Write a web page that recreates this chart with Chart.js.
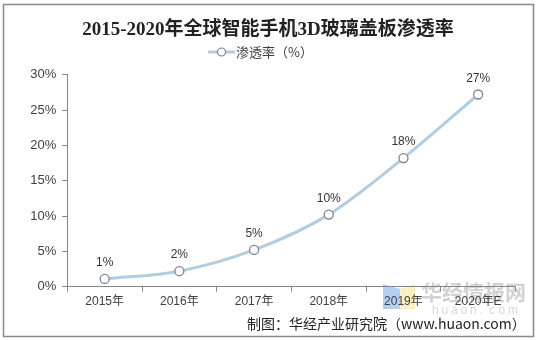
<!DOCTYPE html>
<html>
<head>
<meta charset="utf-8">
<script src="https://cdn.jsdelivr.net/npm/chart.js@4/dist/chart.umd.min.js"></script>
<style>
html,body{margin:0;padding:0;background:#fff;}
#wrap{width:538px;height:340px;position:relative;}
</style>
</head>
<body>
<div id="wrap"><canvas id="c" width="538" height="340"></canvas></div>
<script>
const titleText = '2015-2020年全球智能手机3D玻璃盖板渗透率';
const seriesName = '渗透率（%）';
const sourceText = '制图：华经产业研究院（www.huaon.com）';
const categories = ['2015年','2016年','2017年','2018年','2019年','2020年E'];
const penetration = [1.1, 2.2, 5.2, 10.2, 18.2, 27.2];
const yTicks = [0, 5, 10, 15, 20, 25, 30];

const lineColor = '#b3cde0';
const pointBorder = '#7b8199';
const textColor = '#404040';

const decor = {
  id: 'decor',
  beforeDraw(chart) {
    const ctx = chart.ctx;
    ctx.save();
    ctx.fillStyle = '#fff';
    ctx.fillRect(0, 0, chart.width, chart.height);
    // watermark blocks
    ctx.fillStyle = 'rgba(120,165,235,0.55)';
    ctx.beginPath();
    ctx.moveTo(383, 284); ctx.lineTo(400, 289); ctx.lineTo(400, 309); ctx.lineTo(383, 309); ctx.closePath();
    ctx.fill();
    ctx.fillStyle = 'rgba(250,230,150,0.6)';
    ctx.beginPath();
    ctx.moveTo(400, 289); ctx.lineTo(415, 284); ctx.lineTo(415, 309); ctx.lineTo(400, 309); ctx.closePath();
    ctx.fill();
    ctx.fillStyle = '#d2d2d2';
    ctx.font = 'bold 21px "Noto Sans CJK SC"';
    ctx.textAlign = 'left';
    ctx.textBaseline = 'middle';
    ctx.fillText('华经情报网', 421, 292);
    ctx.font = '12px "Liberation Sans"';
    ctx.fillStyle = '#d8d8d8';
    const wm = 'huaon.com';
    for (let i = 0; i < wm.length; i++) ctx.fillText(wm[i], 432 + i * 9.5, 311);
    ctx.restore();
  },
  afterDraw(chart) {
    const ctx = chart.ctx;
    ctx.save();
    // frame
    ctx.strokeStyle = '#8a8a8a';
    ctx.lineWidth = 1.5;
    ctx.strokeRect(3.5, 4.5, 530, 332);
    // title
    ctx.fillStyle = '#222';
    ctx.font = 'bold 19px "Liberation Serif", "Noto Sans CJK SC"';
    ctx.textAlign = 'center';
    ctx.textBaseline = 'middle';
    ctx.fillText(titleText, 268, 30);
    // legend
    const ly = 52;
    ctx.strokeStyle = lineColor;
    ctx.lineWidth = 3;
    ctx.beginPath(); ctx.moveTo(208, ly); ctx.lineTo(235, ly); ctx.stroke();
    ctx.fillStyle = '#fff';
    ctx.strokeStyle = pointBorder;
    ctx.lineWidth = 1.2;
    ctx.beginPath(); ctx.arc(221.5, ly, 4, 0, Math.PI * 2); ctx.fill(); ctx.stroke();
    ctx.fillStyle = textColor;
    ctx.font = '13px "Noto Sans CJK SC"';
    ctx.textAlign = 'left';
    ctx.fillText(chart.data.datasets[0].label, 236, ly);
    // data labels
    const meta = chart.getDatasetMeta(0);
    ctx.font = '12px "Liberation Sans"';
    ctx.textAlign = 'center';
    ctx.fillStyle = '#333';
    meta.data.forEach((pt, i) => {
      const v = chart.data.datasets[0].data[i];
      ctx.fillText(Math.round(v) + '%', pt.x, pt.y - 16);
    });
    // source
    ctx.fillStyle = '#222';
    ctx.font = '14px "Noto Sans CJK SC"';
    ctx.textAlign = 'left';
    ctx.fillText(sourceText, 247, 324);
    ctx.restore();
  }
};

new Chart(document.getElementById('c'), {
  type: 'line',
  data: {
    labels: categories,
    datasets: [{
      label: seriesName,
      data: penetration,
      borderColor: lineColor,
      borderWidth: 3,
      cubicInterpolationMode: 'monotone',
      pointRadius: 4.5,
      pointBackgroundColor: '#fff',
      pointBorderColor: pointBorder,
      pointBorderWidth: 1.3,
      fill: false
    }]
  },
  options: {
    responsive: false,
    animation: false,
    devicePixelRatio: 1,
    layout: { padding: { left: 0, right: 22.5, top: 74.7, bottom: 23.3 } },
    plugins: { legend: { display: false }, title: { display: false }, tooltip: { enabled: false } },
    scales: {
      x: {
        offset: true,
        grid: { offset: true, drawOnChartArea: false, drawTicks: true, tickLength: 5, color: '#868686' },
        border: { color: '#868686', width: 1 },
        ticks: { color: textColor, font: { family: '"Liberation Sans", "Noto Sans CJK SC"', size: 12 }, padding: 3, maxRotation: 0 },
        afterFit(s) { s.height = 30; }
      },
      y: {
        min: 0, max: 30,
        afterBuildTicks(s) { s.ticks = yTicks.map(v => ({ value: v })); },
        grid: { drawOnChartArea: false, drawTicks: true, tickLength: 5, color: '#868686' },
        border: { color: '#868686', width: 1 },
        ticks: { color: textColor, font: { family: '"Liberation Sans"', size: 13 }, padding: 6, callback: v => v + '%' },
        afterFit(s) { s.width = 67.3; }
      }
    }
  },
  plugins: [decor]
});
</script>
</body>
</html>
